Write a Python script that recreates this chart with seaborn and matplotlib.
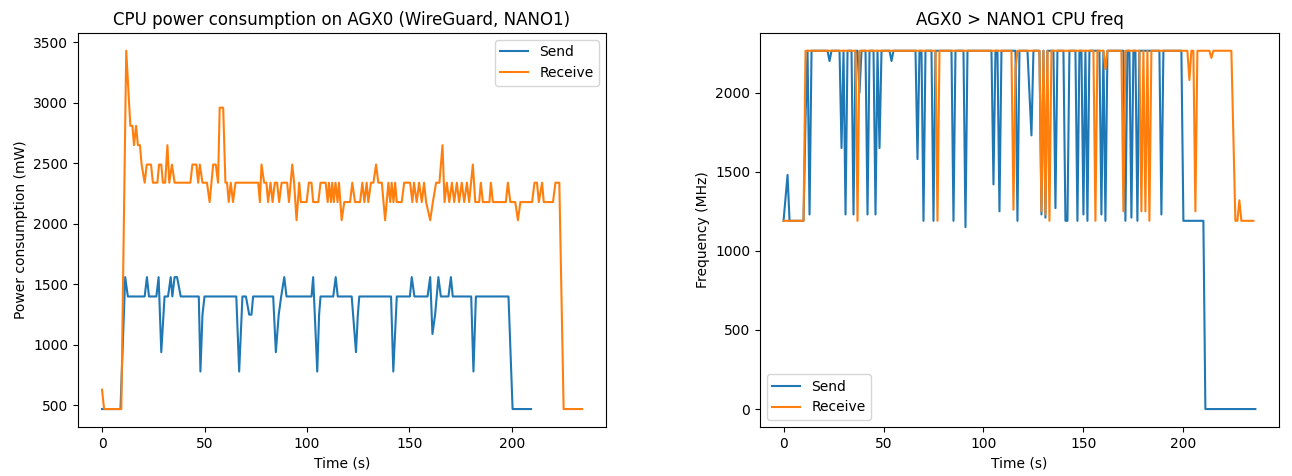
import matplotlib
matplotlib.use('Agg')
import matplotlib.pyplot as plt
import seaborn as sns

# CPU power (mW) - Send
send_pw_t = [0, 9, 11.3, 12.6, 20.8, 21.9, 22.9, 26.5, 27.6, 28.9,
             30.5, 32.2, 33.5, 34.3, 35.4, 36.6, 38.4, 47.2, 48, 49,
             50, 65.5, 66.9, 68.5, 70.2, 71.8, 72.9, 73.7, 83.5, 84.8,
             86.2, 87.4, 88.9, 90, 102.2, 103, 105, 105.9, 106.6, 112.8,
             114, 115, 121.8, 123.9, 124.8, 125.5, 141, 142.1, 143.8, 150.2,
             151.1, 152.4, 158.8, 160.1, 161.2, 162.5, 164.1, 165.3, 169, 170.2,
             171.1, 180.1, 181.2, 182.4, 198.3, 200.3, 209.3]
send_pw = [470, 470, 1560, 1400, 1400, 1560, 1400, 1400, 1560, 940,
           1400, 1400, 1560, 1400, 1560, 1560, 1400, 1400, 780, 1250,
           1400, 1400, 780, 1400, 1400, 1250, 1250, 1400, 1400, 940,
           1250, 1400, 1560, 1400, 1400, 1560, 780, 1250, 1400, 1400,
           1560, 1400, 1400, 940, 1250, 1400, 1400, 780, 1400, 1400,
           1560, 1400, 1400, 1560, 1090, 1250, 1560, 1400, 1400, 1560,
           1400, 1400, 780, 1400, 1400, 470, 470]

# CPU power (mW) - Receive
recv_pw_t = [0, 1, 9.4, 11.8, 13.8, 14.8, 15.6, 16.6, 17.5, 18.5,
             19.3, 20.8, 21.8, 23.9, 24.8, 27, 27.8, 28.9, 29.7, 30.8,
             31.9, 32.8, 34.1, 35.4, 43.1, 44.1, 46, 46.9, 47.7, 49,
             51.2, 52.5, 54.2, 55.5, 56.6, 57.4, 59.1, 60.2, 61, 61.8,
             62.8, 63.9, 65.1, 76.2, 77, 77.8, 79.1, 80.2, 81, 82.2,
             83.2, 84.3, 85.4, 86.4, 87.6, 90.3, 91.2, 92.8, 93.7, 94.9,
             96.2, 97, 99.8, 100.9, 102.2, 103, 105.5, 106.6, 109.1, 110.1,
             110.7, 111.7, 112.3, 113.1, 113.9, 114.9, 115.6, 116.9, 118.2, 121,
             122.1, 123.4, 125.9, 127, 128, 129.1, 129.9, 131.2, 132.4, 133.7,
             134.8, 136.5, 138.1, 139.7, 140.6, 141.3, 142.2, 143, 143.8, 146.2,
             147.4, 150.3, 151.4, 152.2, 153.5, 154.7, 156, 157.1, 158.1, 160.1,
             161.4, 163, 164.6, 166.1, 167.1, 168.2, 169.4, 170.7, 171.8, 173.1,
             174.2, 175.5, 176.7, 178, 179.1, 180.9, 182.1, 184, 184.8, 185.8,
             189, 189.7, 190.7, 197, 198, 199.2, 201.6, 202.9, 204.1, 209.8,
             211, 212.2, 213.1, 214.7, 215.5, 220, 221.2, 223.1, 225.2, 234.2]
recv_pw = [630, 470, 470, 3430, 2810, 2810, 2650, 2810, 2650, 2650,
           2490, 2340, 2490, 2490, 2340, 2340, 2490, 2490, 2340, 2340,
           2650, 2340, 2490, 2340, 2340, 2490, 2490, 2340, 2490, 2340,
           2340, 2180, 2490, 2490, 2340, 2960, 2960, 2340, 2340, 2180,
           2340, 2180, 2340, 2340, 2180, 2490, 2340, 2340, 2180, 2340,
           2180, 2340, 2340, 2180, 2340, 2340, 2180, 2490, 2340, 2030,
           2340, 2180, 2180, 2340, 2340, 2180, 2180, 2340, 2340, 2180,
           2340, 2180, 2340, 2180, 2340, 2180, 2340, 2030, 2180, 2180,
           2340, 2180, 2180, 2340, 2180, 2340, 2180, 2340, 2340, 2490,
           2340, 2340, 2030, 2340, 2180, 2340, 2180, 2340, 2180, 2180,
           2340, 2340, 2180, 2340, 2180, 2340, 2180, 2340, 2180, 2030,
           2180, 2340, 2340, 2650, 2180, 2340, 2180, 2340, 2180, 2340,
           2180, 2340, 2180, 2340, 2180, 2490, 2180, 2180, 2340, 2180,
           2180, 2340, 2180, 2180, 2340, 2180, 2180, 2030, 2180, 2180,
           2340, 2340, 2180, 2340, 2180, 2180, 2340, 2340, 470, 470]

# CPU freq (MHz) - Send
send_fq_t = [0, 2, 3, 10, 11, 12, 13, 14, 22, 23,
             24, 28, 29, 30, 31, 32, 34, 35, 36, 37,
             38, 39, 41, 42, 43, 45, 46, 47, 48, 49,
             53, 54, 55, 66, 67, 68, 69, 70, 71, 74,
             75, 76, 84, 85, 86, 90, 91, 92, 104, 105,
             106, 107, 108, 109, 116, 117, 118, 122, 124, 125,
             128, 129, 130, 131, 132, 135, 136, 137, 140, 141,
             142, 143, 146, 147, 148, 149, 150, 151, 152, 153,
             158, 159, 160, 161, 162, 170, 171, 172, 173, 174,
             175, 176, 177, 178, 188, 189, 190, 199, 200, 210,
             211, 236]
send_fq = [1190, 1480, 1190, 1190, 1840, 2265, 1230, 2265, 2265, 2200,
           2265, 2265, 1650, 2265, 1230, 2265, 2265, 1230, 2265, 2265,
           2000, 2265, 2265, 1230, 2265, 2265, 1230, 2265, 1650, 2265,
           2265, 2200, 2265, 2265, 1580, 2265, 2265, 1190, 2265, 2265,
           1190, 2265, 2265, 1190, 2265, 2265, 1150, 2265, 2265, 1420,
           2265, 2265, 1250, 2265, 2265, 1190, 2265, 2265, 1730, 2265,
           2265, 1230, 2265, 1210, 2265, 2265, 1270, 2265, 2265, 1190,
           1190, 2265, 2265, 1190, 2265, 2265, 1230, 2265, 1190, 2265,
           2265, 1230, 2265, 1190, 2265, 2265, 1190, 2265, 2265, 1210,
           2265, 2265, 1190, 2265, 2265, 1230, 2265, 2265, 1190, 1190,
           0, 0]

# CPU freq (MHz) - Receive
recv_fq_t = [0, 10, 11, 36, 37, 38, 76, 77, 78, 114,
             115, 116, 117, 128, 129, 130, 131, 132, 133, 134,
             155, 156, 157, 160, 161, 162, 169, 170, 171, 178,
             179, 180, 181, 182, 183, 184, 202, 203, 204, 205,
             206, 207, 213, 214, 215, 224, 226, 227, 228, 229,
             235]
recv_fq = [1190, 1190, 2265, 2265, 1190, 2265, 2265, 1190, 2265, 2265,
           1260, 2150, 2265, 2265, 1250, 2265, 1230, 2265, 1190, 2265,
           2265, 1190, 2265, 2265, 2150, 2265, 2265, 1250, 2265, 2265,
           1250, 2265, 1250, 2265, 1190, 2265, 2265, 2080, 2265, 2265,
           1250, 2265, 2265, 2220, 2265, 2265, 1190, 1190, 1320, 1190,
           1190]

fig = plt.figure(figsize=(12.92, 4.76), dpi=100)
ax1 = fig.add_axes([0.0604, 0.103, 0.4087, 0.828])
ax2 = fig.add_axes([0.5882, 0.103, 0.4017, 0.828])

# 왼쪽: 전력 소비
sns.lineplot(x=send_pw_t, y=send_pw, ax=ax1, label='Send', estimator=None, sort=False)
sns.lineplot(x=recv_pw_t, y=recv_pw, ax=ax1, label='Receive', estimator=None, sort=False)
ax1.set_title('CPU power consumption on AGX0 (WireGuard, NANO1)')
ax1.set_xlabel('Time (s)')
ax1.set_ylabel('Power consumption (mW)')
ax1.legend(loc='upper right')

# 오른쪽: CPU 주파수
sns.lineplot(x=send_fq_t, y=send_fq, ax=ax2, label='Send', estimator=None, sort=False)
sns.lineplot(x=recv_fq_t, y=recv_fq, ax=ax2, label='Receive', estimator=None, sort=False)
ax2.set_title('AGX0 > NANO1 CPU freq')
ax2.set_xlabel('Time (s)')
ax2.set_ylabel('Frequency (MHz)')
ax2.legend(loc='lower left')

fig.savefig('out.png', dpi=100)
